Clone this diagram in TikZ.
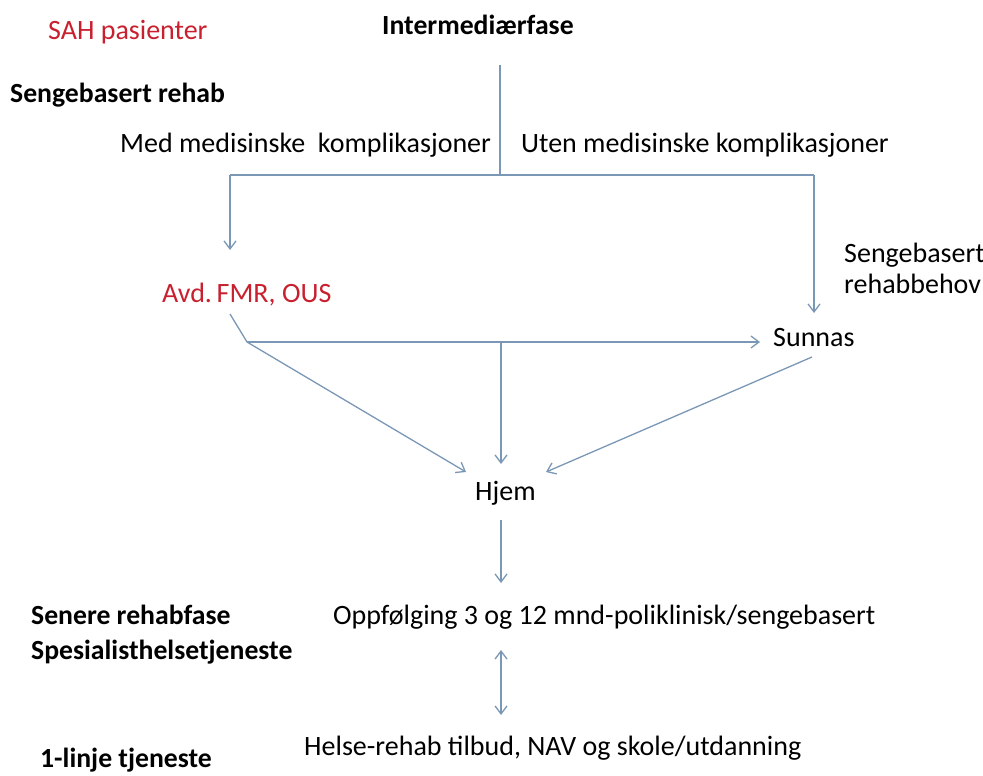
\documentclass[tikz,border=0pt]{standalone}
\usepackage{fontspec}
\setmainfont{Carlito}
\usetikzlibrary{arrows.meta}
\definecolor{flowblue}{RGB}{122,151,182}
\definecolor{sahred}{RGB}{200,32,46}
\tikzset{>={Straight Barb[length=8pt,width=12pt]}}
\tikzset{
  txt/.style={anchor=west, inner sep=0pt, font=\fontsize{28}{31}\selectfont},
  head/.style={txt, font=\fontsize{27.7}{35}\bfseries},
  flow/.style={draw=flowblue, line width=1.3pt}
}

\begin{document}
\begin{tikzpicture}[x=1pt, y=1pt]
    \useasboundingbox (0,0) rectangle (983,-776);
    % labels
    \node[txt, text=sahred] (sah) at (48,-32) {SAH pasienter};
    \node[head] (inter) at (382,-25) {Intermediærfase};
    \node[head] (rehab) at (10,-95) {Sengebasert rehab};
    \node[txt] (med) at (120,-145) {Med medisinske \ komplikasjoner};
    \node[txt] (uten) at (521,-145) {Uten medisinske komplikasjoner};
    \node[txt, align=left] (behov) at (844,-268) {Sengebasert\\rehabbehov};
    \node[txt, text=sahred] (avd) at (162,-295) {Avd.\,FMR, OUS};
    \node[txt] (sunnas) at (773,-338) {Sunnas};
    \node[txt] (hjem) at (475,-493) {Hjem};
    \node[txt] (oppf) at (333,-617) {Oppfølging 3 og 12 mnd-poliklinisk/sengebasert};
    \node[head, align=left] (senere) at (31,-634.5) {Senere rehabfase\\Spesialisthelsetjeneste};
    \node[txt] (helse) at (304,-748) {Helse-rehab tilbud, NAV og skole/utdanning};
    \node[head] (linje) at (40,-760) {1-linje tjeneste};
    % connector points
    \coordinate (stem) at (500,-65);
    \coordinate (split) at (500,-175);
    \coordinate (L) at (230,-175);
    \coordinate (R) at (814,-175);
    \coordinate (avdin) at (230,-250);
    \coordinate (sunin) at (814,-313);
    \coordinate (avdout) at (230,-314);
    \coordinate (knee) at (247,-342);
    \coordinate (sunnw) at (760,-342);
    \coordinate (mid) at (501,-342);
    \coordinate (hjemw) at (466,-472);
    \coordinate (hjemn) at (501,-464);
    \coordinate (hjeme) at (546,-472);
    \coordinate (sunout) at (812,-357);
    \coordinate (hjems) at (501,-520);
    \coordinate (oppfn) at (501,-583);
    \coordinate (oppfs) at (501,-650);
    \coordinate (helsen) at (501,-715);
    % connectors
    \draw[flow] (stem) -- (split);
    \draw[flow] (L) -- (R);
    \draw[flow, ->] (L) -- (avdin);
    \draw[flow, ->] (R) -- (sunin);
    \draw[flow] (avdout) -- (knee);
    \draw[flow, ->] (knee) -- (sunnw);
    \draw[flow, ->] (knee) -- (hjemw);
    \draw[flow, ->] (mid) -- (hjemn);
    \draw[flow, ->] (sunout) -- (hjeme);
    \draw[flow, ->] (hjems) -- (oppfn);
    \draw[flow, <->] (oppfs) -- (helsen);
\end{tikzpicture}
\end{document}
